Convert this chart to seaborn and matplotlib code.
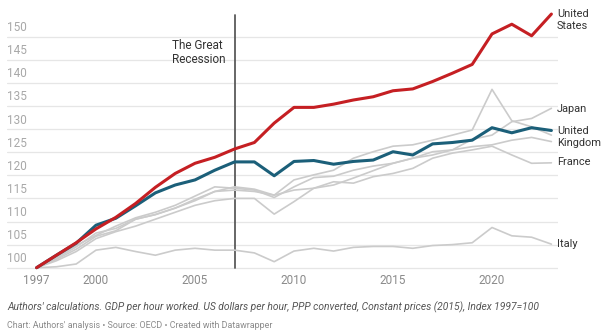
import numpy as np
import pandas as pd
import matplotlib
matplotlib.use("Agg")
import matplotlib.pyplot as plt
import seaborn as sns

years = list(range(1997, 2024))

united_states = [100, 102.7, 105.4, 108.4, 110.9, 113.9, 117.4, 120.4, 122.6, 123.9,
                 125.7, 127.1, 131.3, 134.7, 134.7, 135.4, 136.3, 137.0, 138.3, 138.7,
                 140.3, 142.1, 144.0, 150.6, 152.7, 150.2, 154.9]
united_kingdom = [100, 102.7, 105.3, 109.2, 110.7, 113.4, 116.2, 117.9, 119.0, 121.1,
                  122.9, 122.9, 119.9, 123.0, 123.2, 122.4, 123.0, 123.3, 125.1, 124.4,
                  126.8, 127.1, 127.6, 130.3, 129.2, 130.3, 129.7]
japan = [100, 101.5, 103.5, 106.3, 107.8, 109.0, 110.5, 112.0, 113.5, 114.5,
         115.0, 115.0, 111.6, 114.3, 117.2, 117.9, 119.4, 121.0, 122.6, 123.7,
         124.4, 125.5, 127.8, 128.7, 131.6, 132.3, 134.5]
canada = [100, 102.0, 104.5, 107.5, 108.5, 110.5, 111.5, 112.9, 114.5, 116.5,
          117.5, 117.0, 115.7, 119.0, 120.1, 121.1, 123.7, 125.1, 126.3, 126.6,
          127.6, 128.7, 129.8, 138.6, 131.8, 130.5, 128.7]
germany = [100, 102.3, 104.8, 107.0, 109.0, 110.8, 112.0, 113.5, 115.5, 117.5,
           117.2, 116.8, 115.2, 117.5, 119.5, 119.8, 121.1, 122.0, 122.6, 123.7,
           125.1, 125.5, 126.2, 126.6, 127.6, 128.2, 127.3]
france = [100, 101.8, 104.0, 106.8, 108.0, 110.5, 111.5, 112.9, 114.8, 116.5,
          116.8, 116.5, 115.7, 116.8, 117.2, 118.6, 118.3, 119.7, 120.4, 121.5,
          123.7, 124.8, 125.5, 126.3, 124.4, 122.6, 122.7]
italy = [100, 100.2, 100.8, 103.8, 104.4, 103.5, 102.7, 103.8, 104.2, 103.8,
         103.8, 103.2, 101.3, 103.6, 104.2, 103.6, 104.4, 104.6, 104.6, 104.2,
         104.8, 105.0, 105.4, 108.7, 106.9, 106.6, 105.1]

series = {
    "Italy": italy, "France": france, "Germany": germany, "Canada": canada,
    "Japan": japan, "United Kingdom": united_kingdom, "United States": united_states,
}
df = pd.DataFrame([
    {"year": y, "index": v, "country": c}
    for c, vals in series.items() for y, v in zip(years, vals)
])

x_ticks = [1997, 2000, 2005, 2010, 2015, 2020]
y_ticks = [100, 105, 110, 115, 120, 125, 130, 135, 140, 145, 150]

GREY = "#cbcbcb"
RED = "#c51f23"
BLUE = "#1b5f79"
palette = {c: GREY for c in series}
palette["United States"] = RED
palette["United Kingdom"] = BLUE
sizes = {c: 1.2 for c in series}
sizes["United States"] = 2.2
sizes["United Kingdom"] = 2.2

sns.set_theme(style="white")
plt.rcParams["font.family"] = ["Roboto", "DejaVu Sans"]

fig = plt.figure(figsize=(6.02, 3.34), dpi=100)
W, H = 602, 334
ax = fig.add_axes([7 / W, 1 - 272 / H, (558 - 7) / W, (272 - 8) / H])

x0 = 1997 - (36.6 - 7) / 19.8
x1 = 1997 + (558 - 36.6) / 19.8
ax.set_xlim(x0, x1)
ax.set_ylim(100 - (272 - 267.7) / 4.62, 100 + (267.7 - 8) / 4.62)

# horizontal gridlines
for v in y_ticks:
    ax.axhline(v, color="#e6e6e6", lw=0.9, zorder=0)

# recession marker
ax.plot([2007, 2007], [100, 154.7], color="#5a5a5a", lw=1.3, zorder=1)
ax.text(2003.85, 149.6, "The Great\nRecession", ha="left", va="top",
        fontsize=8.5, color="#333333", linespacing=1.15)

sns.lineplot(data=df, x="year", y="index", hue="country", hue_order=list(series),
             palette=palette, size="country", size_order=list(series), sizes=sizes,
             legend=False, ax=ax, zorder=3)

for s in ax.spines.values():
    s.set_visible(False)
ax.set_xlabel("")
ax.set_ylabel("")
ax.set_xticks(x_ticks)
ax.set_xticklabels([str(t) for t in x_ticks])
ax.tick_params(axis="x", length=0, pad=1.5, labelsize=8.5, labelcolor="#8a8a8a")
ax.set_yticks([])

# y labels sit above their gridlines
for v in y_ticks:
    ax.text(0.0, v + 0.55, str(v), transform=ax.get_yaxis_transform(),
            ha="left", va="bottom", fontsize=8.5, color="#a8a8a8")

# direct labels at the line ends
labels = [("United\nStates", 153.6), ("Japan", 134.4), ("United\nKingdom", 128.3),
          ("France", 122.8), ("Italy", 105.1)]
for text, yv in labels:
    ax.text(0.998, yv, text, transform=ax.get_yaxis_transform(), ha="left",
            va="center", fontsize=7.9, color="#333333", linespacing=1.15,
            clip_on=False)

fig.text(7 / W, 1 - 307 / H,
         "Authors' calculations. GDP per hour worked. US dollars per hour, PPP converted, "
         "Constant prices (2015), Index 1997=100",
         ha="left", va="center", fontsize=7.35, style="italic", color="#555555")
fig.text(7 / W, 1 - 325 / H,
         "Chart: Authors' analysis \u2022 Source: OECD \u2022 Created with Datawrapper",
         ha="left", va="center", fontsize=6.4, color="#8a8a8a")

fig.savefig("out.png", dpi=100, facecolor="white")
